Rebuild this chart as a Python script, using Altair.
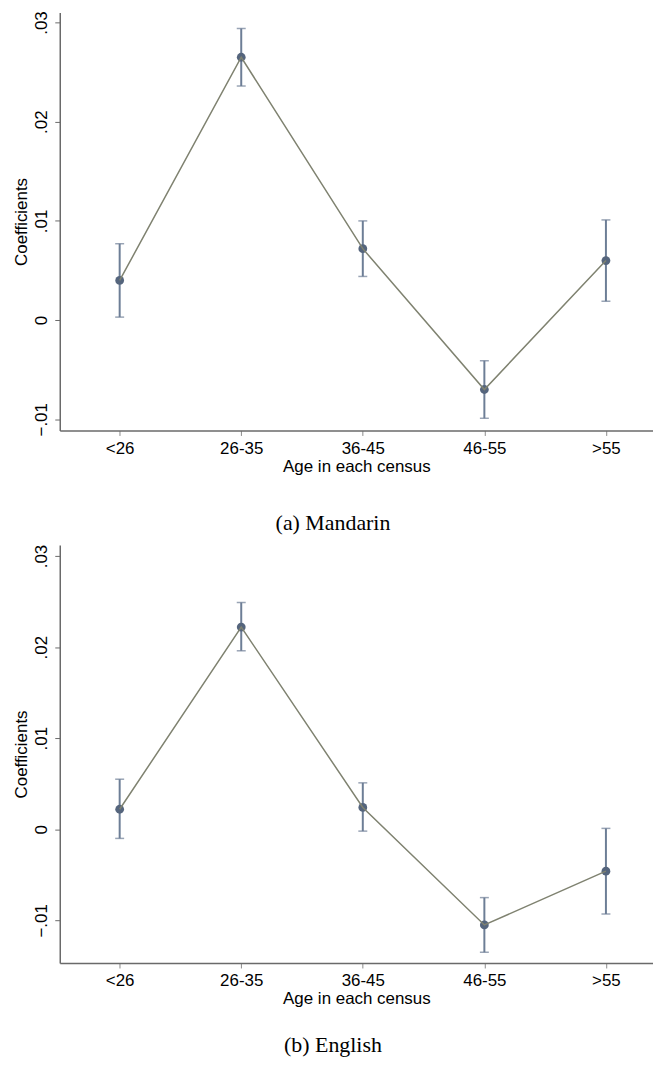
import altair as alt
import pandas as pd

categories = ["<26", "26-35", "36-45", "46-55", ">55"]

mandarin_coef = [0.0040, 0.0265, 0.0072, -0.0070, 0.0060]
mandarin_lo = [0.0003, 0.0236, 0.0044, -0.0099, 0.0019]
mandarin_hi = [0.0077, 0.0294, 0.0100, -0.0041, 0.0101]

english_coef = [0.0022, 0.0222, 0.0024, -0.0105, -0.0046]
english_lo = [-0.0010, 0.0196, -0.0002, -0.0135, -0.0093]
english_hi = [0.0055, 0.0249, 0.0051, -0.0075, 0.0001]

y_ticks = [-0.01, 0, 0.01, 0.02, 0.03]

SANS = "Liberation Sans"
SERIF = "Liberation Serif"
AXIS_GRAY = "#6a6a6a"
LINE_COLOR = "#7f8270"
POINT_COLOR = "#55657d"
BAR_COLOR = "#6d7e96"


def panel(coef, lo, hi, ydomain, caption, cap_offset):
    df = pd.DataFrame({"cat": categories, "coef": coef, "lo": lo, "hi": hi})
    x = alt.X(
        "cat:O",
        sort=categories,
        scale=alt.Scale(type="point", padding=0.44, align=0.56),
        axis=alt.Axis(
            title="Age in each census",
            labelAngle=0,
            labelFont=SANS,
            labelFontSize=17,
            labelColor="black",
            labelPadding=5,
            titleFont=SANS,
            titleFontSize=17,
            titleFontWeight="normal",
            titleColor="black",
            titlePadding=2,
            domainColor=AXIS_GRAY,
            domainWidth=1.5,
            tickColor="#8a8a8a",
            tickWidth=1,
            tickSize=5,
            grid=False,
        ),
    )
    yscale = alt.Scale(domain=ydomain, nice=False, zero=False)
    yaxis = alt.Axis(
        title="Coefficients",
        values=y_ticks,
        labelExpr="datum.value == 0 ? '0' : replace(format(datum.value, '.2f'), '0.', '.')",
        labelAngle=270,
        labelAlign="center",
        labelBaseline="bottom",
        labelFont=SANS,
        labelFontSize=17,
        labelColor="black",
        labelPadding=4,
        titleFont=SANS,
        titleFontSize=17,
        titleFontWeight="normal",
        titleColor="black",
        titlePadding=2,
        domainColor=AXIS_GRAY,
        domainWidth=1.5,
        tickColor=AXIS_GRAY,
        tickWidth=1,
        tickSize=5,
        grid=False,
    )
    base = alt.Chart(df).encode(x=x)
    rule = base.mark_rule(color=BAR_COLOR, strokeWidth=2).encode(
        y=alt.Y("lo:Q", scale=yscale, axis=yaxis), y2="hi:Q"
    )
    cap_lo = base.mark_tick(color=BAR_COLOR, size=9, thickness=1.5, orient="horizontal").encode(
        y=alt.Y("lo:Q", scale=yscale)
    )
    cap_hi = base.mark_tick(color=BAR_COLOR, size=9, thickness=1.5, orient="horizontal").encode(
        y=alt.Y("hi:Q", scale=yscale)
    )
    pts = base.mark_point(filled=True, size=78, color=POINT_COLOR, opacity=1).encode(
        y=alt.Y("coef:Q", scale=yscale)
    )
    line = base.mark_line(color=LINE_COLOR, strokeWidth=1.5).encode(
        y=alt.Y("coef:Q", scale=yscale)
    )
    return alt.layer(rule, cap_lo, cap_hi, pts, line).properties(
        width=596,
        height=420,
        title=alt.TitleParams(
            caption,
            orient="bottom",
            anchor="middle",
            frame="bounds",
            font=SERIF,
            fontSize=22,
            fontWeight="normal",
            color="black",
            offset=cap_offset,
        ),
    )


p1 = panel(mandarin_coef, mandarin_lo, mandarin_hi, [-0.01113, 0.03102], "(a) Mandarin", 39)
p2 = panel(english_coef, english_lo, english_hi, [-0.01468, 0.03122], "(b) English", 28)

chart = (
    alt.vconcat(p1, p2, spacing=10)
    .properties(padding={"left": 5, "top": 0, "right": 0, "bottom": 0}, background="white")
    .configure_view(stroke=None)
)

chart.save("out.html", embed_options={"renderer": "svg", "actions": False})
